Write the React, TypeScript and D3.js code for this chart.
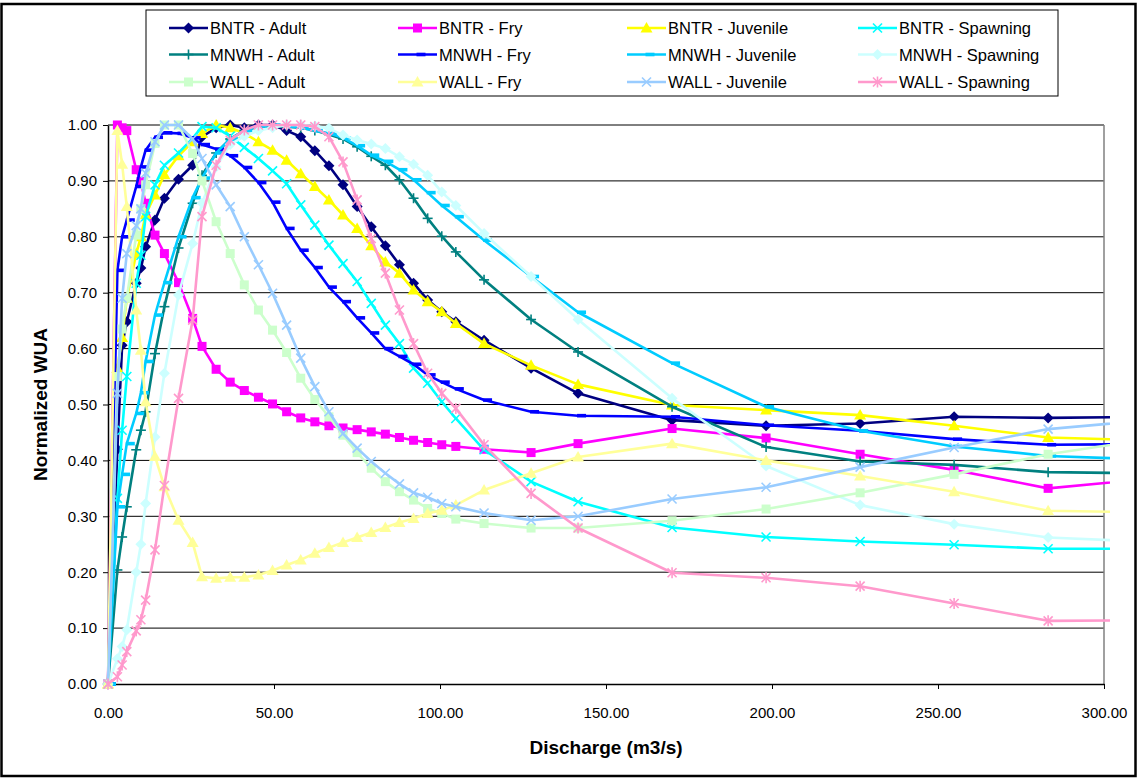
import React, {useEffect, useRef} from 'react';
import * as d3 from 'd3';

// discharge in m3/s (flows were in cfs steps)
const DISCHARGE = [0, 2.83, 4.25, 5.66, 8.50, 9.91, 11.33, 14.16, 16.99, 21.24, 25.49, 28.32, 32.57, 36.81, 41.06,
    45.31, 49.56, 53.80, 58.05, 62.30, 66.54, 70.79, 75.04, 79.29, 83.54, 87.78, 92.03, 96.28, 100.53, 104.77,
    113.27, 127.43, 141.58, 169.90, 198.22, 226.54, 254.85, 283.17, 311.49];

const BNTR_ADULT = [0, 0.42, 0.606, 0.648, 0.717, 0.744, 0.782, 0.83, 0.869, 0.903, 0.928, 0.979, 0.995, 1.0, 0.995, 1.0, 1.0, 0.99, 0.979, 0.954, 0.927, 0.893, 0.854, 0.818, 0.784, 0.75, 0.717, 0.687, 0.666, 0.648, 0.615, 0.565, 0.52, 0.472, 0.462, 0.466, 0.478, 0.476, 0.478];
const BNTR_FRY = [0, 1.0, 0.995, 0.99, 0.92, 0.899, 0.86, 0.803, 0.77, 0.718, 0.654, 0.604, 0.563, 0.54, 0.525, 0.513, 0.501, 0.487, 0.476, 0.469, 0.462, 0.458, 0.455, 0.451, 0.447, 0.441, 0.436, 0.432, 0.428, 0.425, 0.42, 0.414, 0.43, 0.457, 0.44, 0.411, 0.383, 0.35, 0.366];
const BNTR_JUV = [0, 0.565, 0.62, 0.69, 0.77, 0.80, 0.84, 0.875, 0.911, 0.945, 0.97, 0.985, 1.0, 0.995, 0.985, 0.97, 0.955, 0.937, 0.913, 0.89, 0.866, 0.839, 0.815, 0.784, 0.755, 0.735, 0.705, 0.684, 0.666, 0.645, 0.609, 0.57, 0.536, 0.499, 0.49, 0.481, 0.462, 0.441, 0.436];
const BNTR_SPAWN = [0, 0.332, 0.454, 0.55, 0.717, 0.767, 0.836, 0.893, 0.928, 0.95, 0.976, 0.997, 0.995, 0.98, 0.96, 0.94, 0.918, 0.895, 0.857, 0.821, 0.785, 0.752, 0.72, 0.681, 0.642, 0.609, 0.565, 0.538, 0.505, 0.475, 0.419, 0.362, 0.326, 0.28, 0.263, 0.255, 0.249, 0.242, 0.242];
const MNWH_ADULT = [0, 0.204, 0.263, 0.317, 0.419, 0.454, 0.487, 0.591, 0.675, 0.78, 0.86, 0.91, 0.95, 0.975, 0.99, 0.997, 0.998, 0.997, 0.995, 0.99, 0.983, 0.975, 0.961, 0.944, 0.928, 0.902, 0.869, 0.833, 0.801, 0.773, 0.723, 0.652, 0.594, 0.496, 0.424, 0.398, 0.392, 0.379, 0.377];
const MNWH_FRY = [0, 0.74, 0.80, 0.83, 0.89, 0.925, 0.955, 0.978, 0.986, 0.985, 0.977, 0.965, 0.957, 0.945, 0.924, 0.897, 0.862, 0.815, 0.776, 0.745, 0.71, 0.684, 0.655, 0.628, 0.6, 0.586, 0.572, 0.553, 0.54, 0.528, 0.508, 0.487, 0.48, 0.478, 0.463, 0.453, 0.438, 0.428, 0.429];
const MNWH_JUV = [0, 0.317, 0.375, 0.43, 0.484, 0.521, 0.577, 0.66, 0.718, 0.80, 0.87, 0.905, 0.95, 0.975, 0.99, 0.998, 1.0, 0.998, 0.995, 0.99, 0.985, 0.977, 0.963, 0.946, 0.935, 0.92, 0.902, 0.879, 0.856, 0.836, 0.794, 0.729, 0.665, 0.574, 0.496, 0.453, 0.425, 0.408, 0.402];
const MNWH_SPAWN = [0, 0.045, 0.067, 0.097, 0.20, 0.25, 0.323, 0.442, 0.556, 0.696, 0.788, 0.86, 0.925, 0.965, 0.98, 0.99, 0.995, 1.0, 1.0, 0.998, 0.994, 0.982, 0.973, 0.966, 0.958, 0.943, 0.93, 0.91, 0.88, 0.856, 0.806, 0.729, 0.652, 0.511, 0.39, 0.32, 0.286, 0.262, 0.255];
const WALL_ADULT = [0, 0.55, 0.635, 0.69, 0.803, 0.85, 0.893, 0.967, 1.0, 1.0, 0.949, 0.90, 0.827, 0.77, 0.714, 0.669, 0.633, 0.593, 0.547, 0.509, 0.478, 0.445, 0.414, 0.386, 0.362, 0.344, 0.329, 0.314, 0.305, 0.295, 0.287, 0.279, 0.279, 0.292, 0.313, 0.342, 0.375, 0.411, 0.436];
const WALL_FRY = [0, 0.99, 0.93, 0.854, 0.669, 0.597, 0.505, 0.407, 0.353, 0.293, 0.253, 0.192, 0.189, 0.191, 0.191, 0.195, 0.203, 0.213, 0.222, 0.234, 0.244, 0.253, 0.262, 0.271, 0.28, 0.289, 0.296, 0.305, 0.311, 0.32, 0.347, 0.377, 0.406, 0.43, 0.40, 0.372, 0.344, 0.31, 0.307];
const WALL_JUV = [0, 0.52, 0.69, 0.77, 0.82, 0.85, 0.914, 0.97, 1.0, 1.0, 0.975, 0.94, 0.893, 0.854, 0.80, 0.75, 0.699, 0.642, 0.583, 0.532, 0.487, 0.448, 0.422, 0.398, 0.377, 0.358, 0.342, 0.334, 0.323, 0.317, 0.306, 0.293, 0.30, 0.331, 0.352, 0.388, 0.423, 0.456, 0.471];
const WALL_SPAWN = [0, 0.013, 0.034, 0.058, 0.095, 0.115, 0.15, 0.24, 0.355, 0.511, 0.651, 0.836, 0.928, 0.973, 0.991, 1.0, 1.0, 1.0, 1.0, 0.997, 0.979, 0.934, 0.866, 0.797, 0.735, 0.669, 0.609, 0.556, 0.52, 0.493, 0.428, 0.341, 0.279, 0.199, 0.19, 0.175, 0.144, 0.113, 0.114];

const X_TICKS = [0, 50, 100, 150, 200, 250, 300];
const Y_TICKS = [0, 0.1, 0.2, 0.3, 0.4, 0.5, 0.6, 0.7, 0.8, 0.9, 1.0];

const SERIES = [
    {name: 'BNTR - Adult', values: BNTR_ADULT, color: '#000080', marker: 'diamond'},
    {name: 'BNTR - Fry', values: BNTR_FRY, color: '#FF00FF', marker: 'square'},
    {name: 'BNTR - Juvenile', values: BNTR_JUV, color: '#FFFF00', marker: 'triangle'},
    {name: 'BNTR - Spawning', values: BNTR_SPAWN, color: '#00FFFF', marker: 'x'},
    {name: 'MNWH - Adult', values: MNWH_ADULT, color: '#008080', marker: 'plus'},
    {name: 'MNWH - Fry', values: MNWH_FRY, color: '#0000FF', marker: 'dash'},
    {name: 'MNWH - Juvenile', values: MNWH_JUV, color: '#00CCFF', marker: 'dash'},
    {name: 'MNWH - Spawning', values: MNWH_SPAWN, color: '#CCFFFF', marker: 'diamond'},
    {name: 'WALL - Adult', values: WALL_ADULT, color: '#CCFFCC', marker: 'square'},
    {name: 'WALL - Fry', values: WALL_FRY, color: '#FFFF99', marker: 'triangle'},
    {name: 'WALL - Juvenile', values: WALL_JUV, color: '#99CCFF', marker: 'x'},
    {name: 'WALL - Spawning', values: WALL_SPAWN, color: '#FF99CC', marker: 'asterisk'},
];

const FONT = "'Liberation Sans', Arial, sans-serif";

const addMarker = (g, type, color, cx, cy) => {
    const m = g.append('g').attr('transform', `translate(${cx},${cy})`);
    const seg = (x1, y1, x2, y2) => m.append('line')
        .attr('x1', x1).attr('y1', y1).attr('x2', x2).attr('y2', y2)
        .attr('stroke', color).attr('stroke-width', 1.6);
    if (type === 'diamond') {
        m.append('path').attr('d', 'M0,-5.5L5.5,0L0,5.5L-5.5,0Z').attr('fill', color);
    } else if (type === 'square') {
        m.append('rect').attr('x', -4.5).attr('y', -4.5).attr('width', 9).attr('height', 9).attr('fill', color);
    } else if (type === 'triangle') {
        m.append('path').attr('d', 'M0,-6L6,4.5L-6,4.5Z').attr('fill', color);
    } else if (type === 'x') {
        seg(-4.5, -4.5, 4.5, 4.5);
        seg(-4.5, 4.5, 4.5, -4.5);
    } else if (type === 'plus') {
        seg(-5, 0, 5, 0);
        seg(0, -5, 0, 5);
    } else if (type === 'dash') {
        m.append('rect').attr('x', -1).attr('y', -1.8).attr('width', 9).attr('height', 3.6).attr('fill', color);
    } else if (type === 'asterisk') {
        seg(-4.5, -4.5, 4.5, 4.5);
        seg(-4.5, 4.5, 4.5, -4.5);
        seg(0, -5.5, 0, 5.5);
    }
};

export default function App() {
    const svgRef = useRef(null);
    const width = 1138;
    const height = 779;
    const plot = {left: 108, top: 125, right: 1104, bottom: 684};

    useEffect(() => {
        const svg = d3.select(svgRef.current);
        svg.selectAll('*').remove();

        const x = d3.scaleLinear().domain([0, 300]).range([plot.left, plot.right]);
        const y = d3.scaleLinear().domain([0, 1]).range([plot.bottom, plot.top]);

        svg.append('rect').attr('width', width).attr('height', height).attr('fill', '#fff');

        // gridlines
        svg.append('g')
            .selectAll('line')
            .data(Y_TICKS.slice(1))
            .join('line')
            .attr('x1', plot.left).attr('x2', plot.right)
            .attr('y1', d => y(d)).attr('y2', d => y(d))
            .attr('stroke', '#000').attr('stroke-width', 1);

        // plot area right edge
        svg.append('line')
            .attr('x1', plot.right).attr('x2', plot.right)
            .attr('y1', plot.top).attr('y2', plot.bottom)
            .attr('stroke', '#808080').attr('stroke-width', 1.5);

        // axes
        const yAxis = d3.axisLeft(y).tickValues(Y_TICKS).tickFormat(d3.format('.2f')).tickSize(5).tickSizeOuter(0).tickPadding(6);
        const xAxis = d3.axisBottom(x).tickValues(X_TICKS).tickFormat(d3.format('.2f')).tickSize(5).tickSizeOuter(0).tickPadding(18);

        const ya = svg.append('g').attr('transform', `translate(${plot.left},0)`).call(yAxis);
        const xa = svg.append('g').attr('transform', `translate(0,${plot.bottom})`).call(xAxis);
        [ya, xa].forEach(a => {
            a.selectAll('path').attr('stroke', '#000').attr('stroke-width', 1.5);
            a.selectAll('line').attr('stroke', '#000');
            a.selectAll('text').attr('font-family', FONT).attr('font-size', 15).attr('fill', '#000');
        });

        // clip so the last flow (beyond 300) runs off the edge
        svg.append('clipPath').attr('id', 'plotClip')
            .append('rect').attr('x', plot.left - 10).attr('y', plot.top - 15)
            .attr('width', plot.right - plot.left + 16).attr('height', plot.bottom - plot.top + 25);

        const chart = svg.append('g').attr('clip-path', 'url(#plotClip)');
        const myLine = d3.line().x((d, i) => x(DISCHARGE[i])).y(d => y(d));

        SERIES.forEach(s => {
            const g = chart.append('g');
            g.append('path')
                .attr('d', myLine(s.values))
                .attr('fill', 'none')
                .attr('stroke', s.color)
                .attr('stroke-width', 2.6)
                .attr('stroke-linejoin', 'round');
            s.values.forEach((v, i) => addMarker(g, s.marker, s.color, x(DISCHARGE[i]), y(v)));
        });

        // axis titles
        svg.append('text')
            .attr('x', (plot.left + plot.right) / 2).attr('y', 754)
            .attr('text-anchor', 'middle')
            .attr('font-family', FONT).attr('font-size', 19).attr('font-weight', 'bold')
            .text('Discharge (m3/s)');
        svg.append('text')
            .attr('transform', `translate(47,${(plot.top + plot.bottom) / 2}) rotate(-90)`)
            .attr('text-anchor', 'middle')
            .attr('font-family', FONT).attr('font-size', 19).attr('font-weight', 'bold')
            .text('Normalized WUA');

        // legend
        const legend = svg.append('g');
        legend.append('rect')
            .attr('x', 146).attr('y', 10).attr('width', 912).attr('height', 86)
            .attr('fill', '#fff').attr('stroke', '#000').attr('stroke-width', 1);
        const colX = [169, 398, 627, 858];
        const rowY = [28, 54.5, 82];
        SERIES.forEach((s, i) => {
            const lx = colX[i % 4];
            const ly = rowY[Math.floor(i / 4)];
            legend.append('line')
                .attr('x1', lx).attr('x2', lx + 39).attr('y1', ly).attr('y2', ly)
                .attr('stroke', s.color).attr('stroke-width', 2.6);
            addMarker(legend, s.marker, s.color, lx + 19.5, ly);
            legend.append('text')
                .attr('x', lx + 41).attr('y', ly + 6)
                .attr('font-family', FONT).attr('font-size', 16.5)
                .text(s.name);
        });

        // outer chart border
        svg.append('rect')
            .attr('x', 1.5).attr('y', 4).attr('width', width - 4).attr('height', height - 7)
            .attr('fill', 'none').attr('stroke', '#000').attr('stroke-width', 2.5);
    }, []);

    return <svg ref={svgRef} width={width} height={height} style={{position: 'absolute', left: 0, top: 0}}/>;
}
